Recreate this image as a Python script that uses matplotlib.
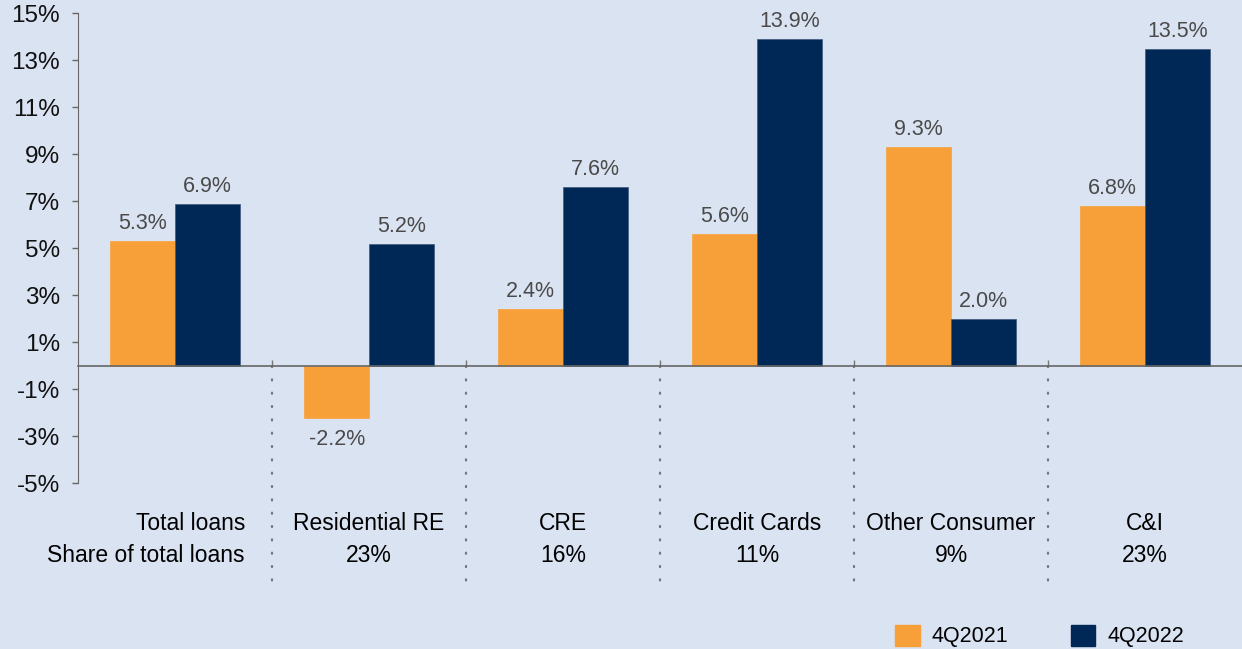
import matplotlib
matplotlib.use("Agg")
import matplotlib.pyplot as plt
from matplotlib.patches import Patch
from matplotlib.transforms import blended_transform_factory
import numpy as np

categories = ["Total loans", "Residential RE", "CRE", "Credit Cards", "Other Consumer", "C&I"]
shares = ["Share of total loans", "23%", "16%", "11%", "9%", "23%"]
q2021 = [5.3, -2.2, 2.4, 5.6, 9.3, 6.8]
q2022 = [6.9, 5.2, 7.6, 13.9, 2.0, 13.5]
series_names = ["4Q2021", "4Q2022"]
yticks = [-5, -3, -1, 1, 3, 5, 7, 9, 11, 13, 15]

bg = "#DAE3F2"
orange = "#F7A03A"
navy = "#002856"

plt.rcParams["font.family"] = ["Liberation Sans", "DejaVu Sans"]

fig = plt.figure(figsize=(12.42, 6.49), dpi=100, facecolor=bg)
ax = fig.add_axes([78/1242, (649-483.3)/649, 1-78/1242, 470/649])
ax.set_facecolor(bg)

x = np.arange(len(categories))
w = 0.333
b1 = ax.bar(x - w/2, q2021, w, color=orange, edgecolor=orange, linewidth=0.5)
b2 = ax.bar(x + w/2, q2022, w, color=navy, edgecolor="#40587a", linewidth=0.5)

for bars, vals in [(b1, q2021), (b2, q2022)]:
    for b, v in zip(bars, vals):
        cx = b.get_x() + b.get_width()/2
        if v >= 0:
            ax.annotate("%.1f%%" % v, (cx, v), xytext=(0, 5), textcoords="offset points",
                        ha="center", va="bottom", fontsize=15.5, color="#4a4a4a")
        else:
            ax.annotate("%.1f%%" % v, (cx, v), xytext=(0, -8), textcoords="offset points",
                        ha="center", va="top", fontsize=15.5, color="#4a4a4a")

ax.set_xlim(-0.5, len(categories) - 0.5)
ax.set_ylim(-5, 15)
ax.set_yticks(yticks)
ax.set_yticklabels(["%d%%" % t for t in yticks], fontsize=17.5, color="#111111")
ax.tick_params(axis="y", length=4, width=1, color="#666666", pad=9)

for s in ["top", "right"]:
    ax.spines[s].set_visible(False)
ax.spines["left"].set_color("#666666")
ax.spines["bottom"].set_position(("data", 0))
ax.spines["bottom"].set_color("#666666")
ax.spines["bottom"].set_linewidth(1.2)

seps = x[:-1] + 0.5
ax.set_xticks(seps)
ax.set_xticklabels([])
ax.tick_params(axis="x", direction="in", length=4, width=1, color="#777777")

# dotted separators below the zero line (down to ~581 px)
sep_bottom = -5 - (581 - 483.3) * 20 / 470
for s in seps:
    ax.plot([s, s], [0, sep_bottom], color="#777777", lw=1.6,
            linestyle=(0, (0.5, 5.5)), dash_capstyle="round", clip_on=False)

trans = blended_transform_factory(ax.transData, fig.transFigure)
for i, (c, sh) in enumerate(zip(categories, shares)):
    if i == 0:
        ax.text(245/1242, 1 - 524/649, c, transform=fig.transFigure, ha="right", va="center", fontsize=16.5)
        ax.text(245/1242, 1 - 555/649, sh, transform=fig.transFigure, ha="right", va="center", fontsize=16.5)
    else:
        ax.text(i, 1 - 524/649, c, transform=trans, ha="center", va="center", fontsize=16.5)
        ax.text(i, 1 - 555/649, sh, transform=trans, ha="center", va="center", fontsize=16.5)

handles = [Patch(facecolor=orange, edgecolor=orange), Patch(facecolor=navy, edgecolor=navy)]
fig.legend(handles, series_names, ncol=2, loc="center left", bbox_to_anchor=(895/1242, 1 - 636/649),
           frameon=False, fontsize=15.5, handlelength=1.15, handleheight=1.15,
           handletextpad=0.55, columnspacing=2.9, borderaxespad=0, borderpad=0)

fig.savefig("out.png", dpi=100, facecolor=bg)
